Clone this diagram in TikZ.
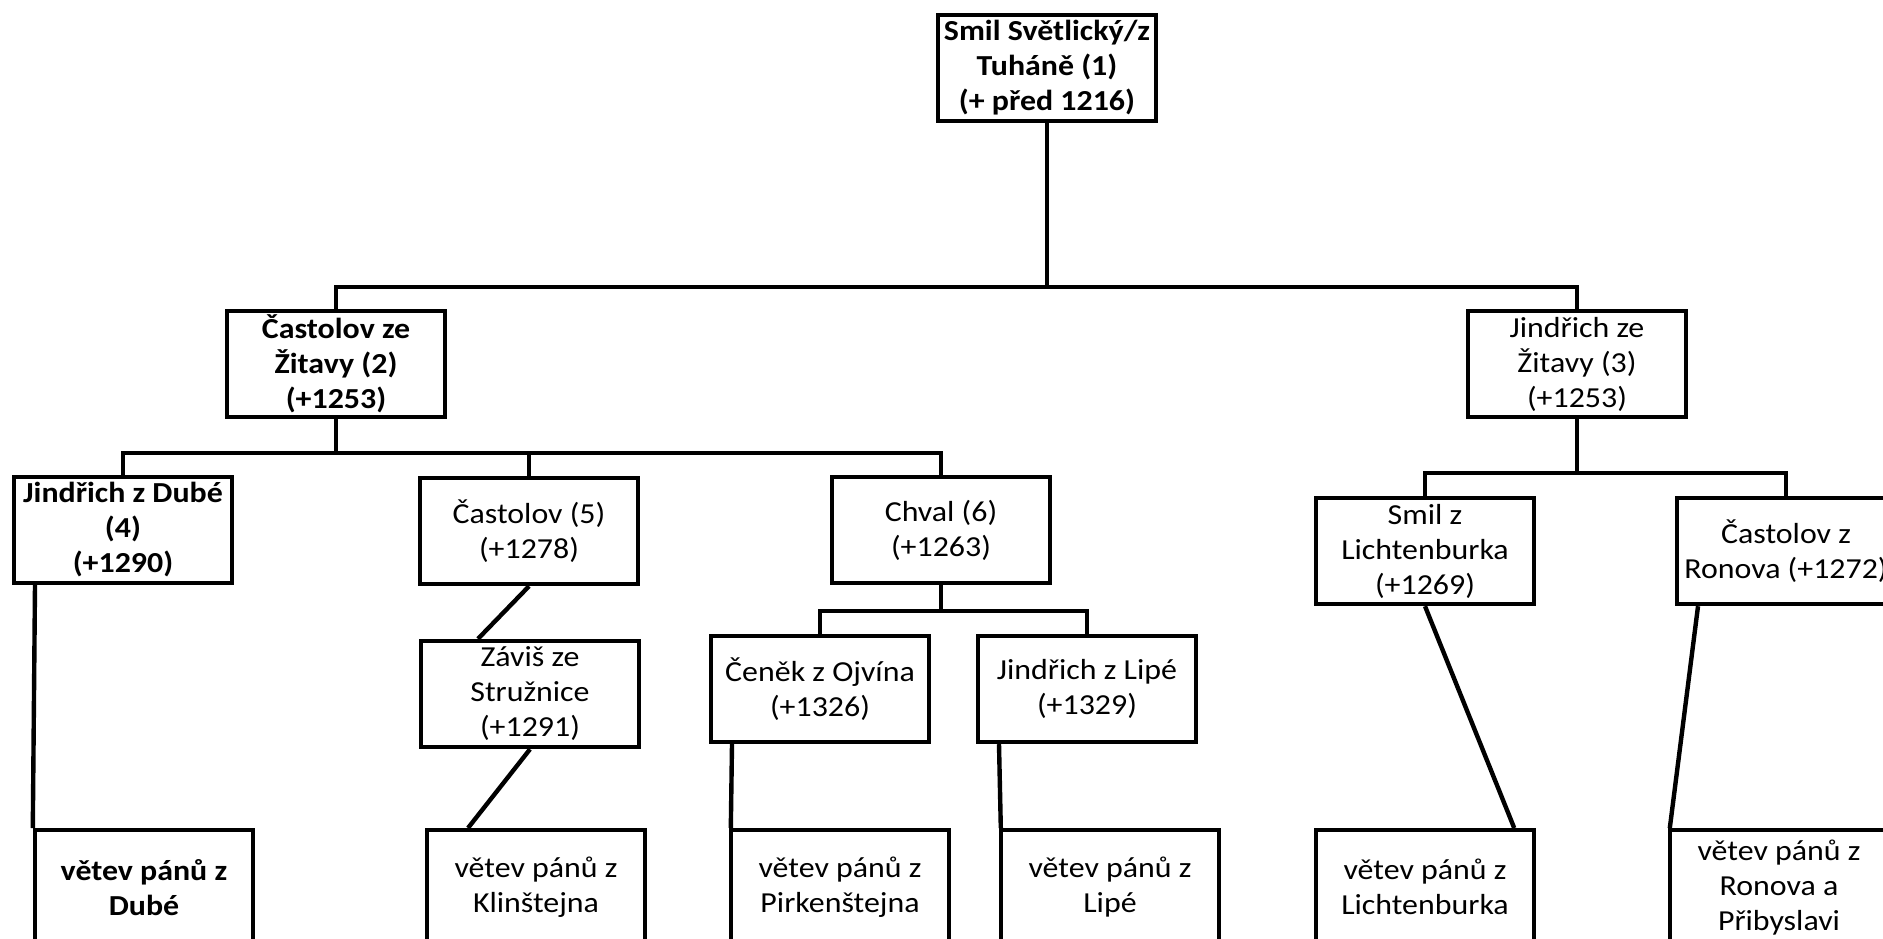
\documentclass[tikz,border=0pt]{standalone}
\usepackage{fontspec}
\setmainfont{Carlito}[FakeStretch=1.1]
\begin{document}
\begin{tikzpicture}[x=0.5pt,y=-0.5pt,line width=2.2pt,
		bx/.style={draw,rectangle,minimum width=109pt,minimum height=53pt,inner
					sep=1pt,align=center,text=black,font=\fontsize{14.5}{17.5}\selectfont},
		bb/.style={bx,font=\fontsize{14.5}{17.5}\selectfont\bfseries},
		vt/.style={bx,anchor=north,minimum height=57pt},
		vb/.style={vt,font=\fontsize{14.5}{17.5}\selectfont\bfseries}]
		\useasboundingbox (0,0) rectangle (1883,938);
		\clip (0,0) rectangle (1883,938);
		% generations
		\node[bb] (r) at (1047,68) {Smil Světlický/z\\Tuháně (1)\\(+ před 1216)};
		\node[bb] (c2) at (336,364) {Častolov ze\\Žitavy (2)\\(+1253)};
		\node[bx] (j3) at (1577,364) {Jindřich ze\\Žitavy (3)\\(+1253)};
		\node[bb] (j4) at (123,530) {Jindřich z Dubé\\(4)\\(+1290)};
		\node[bx] (c5) at (529,531) {Častolov (5)\\(+1278)};
		\node[bx] (ch6) at (941,530) {Chval (6)\\(+1263)};
		\node[bx] (sl) at (1425,551) {Smil z\\Lichtenburka\\(+1269)};
		\node[bx] (cr) at (1786,551) {Častolov z\\Ronova (+1272)};
		\node[bx] (zs) at (530,694) {Záviš ze\\Stružnice\\(+1291)};
		\node[bx] (co) at (820,689) {Čeněk z Ojvína\\(+1326)};
		\node[bx] (jl) at (1087,689) {Jindřich z Lipé\\(+1329)};
		% branches
		\node[vb] (vd) at (144,828) {větev pánů z\\Dubé};
		\node[vt] (vk) at (536,828) {větev pánů z\\Klinštejna};
		\node[vt] (vp) at (840,828) {větev pánů z\\Pirkenštejna};
		\node[vt] (vl) at (1110,828) {větev pánů z\\Lipé};
		\node[vt] (vli) at (1425,828) {větev pánů z\\Lichtenburka};
		\node[vt] (vr) at (1779,828) {větev pánů z\\Ronova a\\Přibyslavi};
		% connectors
		\coordinate (b1) at (1047,287);
		\coordinate (b2) at (336,453);
		\coordinate (b3) at (941,611);
		\coordinate (b4) at (1577,473);
		\draw (r.south) -- (b1);
		\draw (c2.north) |- (b1) -| (j3.north);
		\draw (c2.south) -- (b2);
		\draw (j4.north) |- (b2) -| (ch6.north);
		\draw (c5.north) -- (c5.north |- b2);
		\draw (ch6.south) -- (b3);
		\draw (co.north) |- (b3) -| (jl.north);
		\draw (j3.south) -- (b4);
		\draw (sl.north) |- (b4) -| (cr.north);
		\draw (c5.south) -- ([xshift=-26pt]zs.north);
		\draw (zs.south) -- ([xshift=-34pt]vk.north);
		\draw ([xshift=-44pt]j4.south) -- (vd.north west);
		\draw ([xshift=-44pt]co.south) -- ([xshift=1pt]vp.north west);
		\draw ([xshift=-44pt]jl.south) -- ([xshift=1pt]vl.north west);
		\draw (sl.south) -- ([xshift=-11pt]vli.north east);
		\draw ([xshift=-44pt]cr.south) -- ([xshift=1pt]vr.north west);
	\end{tikzpicture}
\end{document}
